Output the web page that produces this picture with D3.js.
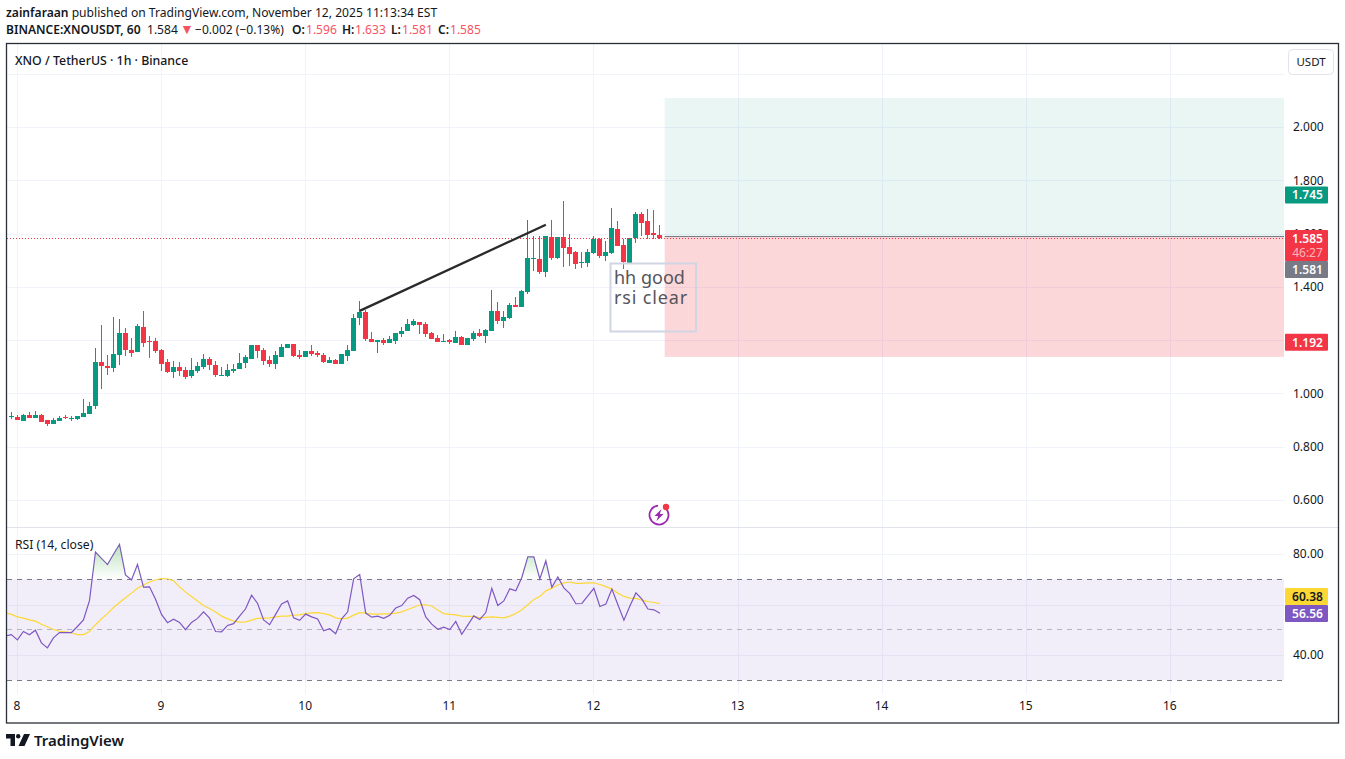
<!DOCTYPE html>
<html>
<head>
<meta charset="utf-8">
<script src="https://cdnjs.cloudflare.com/ajax/libs/d3/7.8.5/d3.min.js"></script>
<style>
html, body { margin: 0; padding: 0; background: #fff; }
svg { display: block; }
text { font-family: "Noto Sans", sans-serif; }
</style>
</head>
<body>
<div id="chart"></div>
<script>
// hourly candles, first one is 7 Nov 23:00
var firstCandleHour = -1;
var opens = [.912,.912,.897,.919,.908,.919,.901,.886,.897,.912,
  .907,.904,.912,.923,.953,1.118,1.103,1.096,1.144,1.227,
  1.163,1.156,1.249,1.197,1.197,1.163,1.118,1.081,1.099,1.088,
  1.066,1.084,1.099,1.129,1.107,1.066,1.066,1.084,1.092,1.114,
  1.129,1.182,1.163,1.126,1.111,1.137,1.171,1.186,1.144,1.137,
  1.159,1.152,1.144,1.114,1.126,1.111,1.141,1.159,1.283,1.306,
  1.204,1.193,1.201,1.189,1.197,1.223,1.234,1.257,1.268,1.261,
  1.227,1.208,1.197,1.201,1.189,1.212,1.182,1.204,1.227,1.216,
  1.234,1.309,1.272,1.283,1.332,1.324,1.381,1.506,1.504,1.456,
  1.587,1.508,1.587,1.549,1.531,1.49,1.489,1.527,1.579,1.516,
  1.527,1.617,1.557,1.489,1.583,1.673,1.647,1.602,1.596];
var highs = [.931,.919,.923,.931,.934,.923,.901,.908,.916,.919,
  .916,.916,.979,.968,1.171,1.257,1.144,1.287,1.279,1.246,
  1.208,1.261,1.309,1.216,1.208,1.167,1.129,1.122,1.118,1.099,
  1.133,1.118,1.148,1.137,1.122,1.099,1.111,1.111,1.152,1.144,
  1.182,1.182,1.171,1.141,1.159,1.186,1.186,1.186,1.163,1.159,
  1.182,1.159,1.152,1.137,1.129,1.148,1.182,1.298,1.347,1.313,
  1.231,1.201,1.208,1.216,1.227,1.249,1.279,1.279,1.268,1.268,
  1.231,1.219,1.223,1.204,1.234,1.216,1.208,1.234,1.242,1.242,
  1.388,1.343,1.309,1.339,1.362,1.388,1.651,1.591,1.591,1.591,
  1.651,1.587,1.722,1.598,1.534,1.531,1.542,1.591,1.583,1.572,
  1.696,1.647,1.579,1.583,1.681,1.681,1.692,1.688,1.633];
var lows = [.904,.901,.897,.908,.908,.893,.878,.886,.897,.904,
  .897,.901,.912,.923,.942,1.017,1.069,1.081,1.107,1.141,
  1.137,1.156,1.174,1.133,1.152,1.084,1.077,1.058,1.066,1.054,
  1.058,1.077,1.092,1.088,1.062,1.066,1.062,1.077,1.092,1.096,
  1.129,1.133,1.107,1.099,1.092,1.137,1.171,1.137,1.129,1.137,
  1.141,1.137,1.114,1.114,1.111,1.111,1.122,1.159,1.257,1.197,
  1.193,1.152,1.182,1.189,1.186,1.212,1.234,1.253,1.223,1.212,
  1.204,1.193,1.197,1.186,1.189,1.182,1.182,1.197,1.212,1.189,
  1.234,1.261,1.246,1.279,1.324,1.324,1.373,1.459,1.448,1.437,
  1.501,1.504,1.474,1.478,1.467,1.471,1.474,1.523,1.508,1.497,
  1.523,1.553,1.467,1.489,1.564,1.591,1.579,1.579,1.581];
var closes = [.914,.902,.919,.908,.919,.893,.886,.901,.908,.908,
  .908,.916,.927,.953,1.118,1.103,1.096,1.148,1.227,1.163,
  1.152,1.253,1.189,1.194,1.159,1.111,1.081,1.099,1.084,1.062,
  1.088,1.103,1.129,1.107,1.069,1.069,1.088,1.092,1.114,1.137,
  1.182,1.159,1.122,1.111,1.144,1.174,1.186,1.141,1.137,1.159,
  1.148,1.144,1.118,1.126,1.111,1.148,1.163,1.283,1.306,1.204,
  1.193,1.201,1.189,1.204,1.227,1.234,1.261,1.272,1.257,1.223,
  1.204,1.193,1.198,1.193,1.212,1.182,1.208,1.227,1.216,1.238,
  1.309,1.272,1.287,1.332,1.324,1.384,1.508,1.508,1.456,1.591,
  1.508,1.587,1.546,1.523,1.486,1.493,1.531,1.579,1.516,1.531,
  1.621,1.553,1.493,1.583,1.673,1.639,1.594,1.594,1.585];

// rsi starts one bar earlier, off the left edge
var firstRsiHour = -2;
var rsiValues = [47.5,48.1,46.0,49.3,48.0,49.8,44.8,42.8,46.8,48.9,
  48.9,48.9,51.3,53.9,61.5,80.8,78.3,75.8,79.9,83.8,
  71.7,69.7,75.9,66.9,67.0,62.1,56.1,52.8,54.2,52.9,
  50.0,52.9,54.5,57.1,54.6,49.3,49.2,51.7,52.4,55.4,
  58.3,63.7,60.4,53.9,52.0,56.1,60.2,61.4,54.7,53.7,
  56.2,55.1,54.3,49.6,50.4,48.4,54.3,57.1,70.2,71.9,
  56.6,55.0,55.4,54.5,55.7,58.6,59.6,62.5,63.6,61.9,
  55.1,52.2,50.2,51.0,50.1,53.3,48.2,51.8,55.5,54.1,
  56.8,66.4,59.6,61.4,66.2,65.4,70.7,78.9,78.9,70.1,
  77.3,66.8,70.9,66.6,64.3,60.3,60.4,63.4,66.4,59.2,
  60.2,66.1,59.9,53.8,59.4,64.6,62.1,58.2,57.9,56.56];
var rsiMa = [56.8,56.1,55.1,54.6,53.9,53.4,52.2,51.2,50.1,49.4,
  49.2,48.8,48.1,48.1,49.3,52.0,54.3,56.4,58.8,60.8,
  62.7,64.5,66.4,67.7,68.9,69.7,70.3,70.2,69.4,67.0,
  64.9,63.2,61.4,59.6,58.4,57.0,55.4,54.3,53.4,53.0,
  53.1,53.8,54.5,54.6,54.7,55.1,55.4,55.4,55.8,55.9,
  56.4,56.7,56.8,56.4,55.9,54.7,54.3,54.6,55.8,56.8,
  56.6,56.2,56.2,56.3,56.3,56.6,57.1,58.0,58.9,59.8,
  59.9,59.4,57.8,56.4,56.1,55.9,55.4,55.3,55.3,54.7,
  54.9,55.1,54.9,54.7,55.4,56.4,57.9,59.9,62.0,63.2,
  65.4,66.5,67.7,68.6,68.9,68.4,68.4,68.6,68.6,67.9,
  67.1,66.1,64.5,63.2,62.5,62.4,61.7,61.2,60.8,60.38];

var dayLabels = [8,9,10,11,12,13,14,15,16];
var priceGrid = [2.2,2.0,1.8,1.6,1.4,1.2,1.0,0.8,0.6];
// 1.200 and 60.00 sit fully behind the tags so they get no label
var priceTicks = [2.0,1.8,1.6,1.4,1.0,0.8,0.6];
var rsiGrid = [80,60,40];
var rsiTicks = [80,40];
var rsiBands = [70,50,30];

// long position tool and trend line
var positionStartHour = 107.8;
var targetPrice = 2.109, entryPrice = 1.589, stopPrice = 1.137;
var trendHours = [57,88], trendPrices = [1.31,1.633];
var lastPrice = 1.585;

var width = 1345, height = 759;
var plot = {left: 7, right: 1284, top: 44, bottom: 694, divider: 527};

var svg = d3.select("#chart").append("svg")
    .attr("width", width)
    .attr("height", height);

var x = d3.scaleLinear().domain([0,216]).range([17.4,17.4+216*6.005]);
var y = d3.scaleLinear().domain([2,0.6]).range([127,500]);
var yRsi = d3.scaleLinear().domain([80,40]).range([554,655]);

var defs = svg.append("defs");
defs.append("clipPath").attr("id","clip-price").append("rect")
    .attr("x",plot.left).attr("y",plot.top).attr("width",plot.right-plot.left).attr("height",plot.divider-plot.top);
defs.append("clipPath").attr("id","clip-rsi").append("rect")
    .attr("x",plot.left).attr("y",plot.divider).attr("width",plot.right-plot.left).attr("height",plot.bottom-plot.divider);
defs.append("clipPath").attr("id","clip-over").append("rect")
    .attr("x",plot.left).attr("y",plot.divider).attr("width",plot.right-plot.left).attr("height",yRsi(70)-plot.divider);
var grad = defs.append("linearGradient").attr("id","over-fill")
    .attr("gradientUnits","userSpaceOnUse")
    .attr("x1",0).attr("x2",0).attr("y1",yRsi(84)).attr("y2",yRsi(70));
grad.append("stop").attr("offset",0).attr("stop-color","#4caf50").attr("stop-opacity",0.38);
grad.append("stop").attr("offset",1).attr("stop-color","#4caf50").attr("stop-opacity",0);

// grid
var dayHours = dayLabels.map(function(d){ return (d-8)*24; });
var gridColor = "#f0f3fa";
svg.append("g").selectAll("line").data(dayHours).enter().append("line")
    .attr("x1",function(d){ return Math.floor(x(d))+0.5; })
    .attr("x2",function(d){ return Math.floor(x(d))+0.5; })
    .attr("y1",plot.top).attr("y2",plot.bottom)
    .attr("stroke",gridColor);
svg.append("g").selectAll("line").data(priceGrid).enter().append("line")
    .attr("x1",plot.left).attr("x2",plot.right)
    .attr("y1",function(d){ return Math.round(y(d))+0.5; })
    .attr("y2",function(d){ return Math.round(y(d))+0.5; })
    .attr("stroke",gridColor);
svg.append("g").selectAll("line").data(rsiGrid).enter().append("line")
    .attr("x1",plot.left).attr("x2",plot.right)
    .attr("y1",function(d){ return Math.round(yRsi(d))+0.5; })
    .attr("y2",function(d){ return Math.round(yRsi(d))+0.5; })
    .attr("stroke",gridColor);

// position tool
var pricePane = svg.append("g").attr("clip-path","url(#clip-price)");
pricePane.append("rect")
    .attr("x",x(positionStartHour)).attr("width",plot.right-x(positionStartHour))
    .attr("y",y(targetPrice)).attr("height",y(entryPrice)-y(targetPrice))
    .attr("fill","#089981").attr("fill-opacity",0.09);
pricePane.append("rect")
    .attr("x",x(positionStartHour)).attr("width",plot.right-x(positionStartHour))
    .attr("y",y(entryPrice)).attr("height",y(stopPrice)-y(entryPrice))
    .attr("fill","#f23645").attr("fill-opacity",0.2);
pricePane.append("line")
    .attr("x1",x(positionStartHour)).attr("x2",plot.right)
    .attr("y1",y(entryPrice)).attr("y2",y(entryPrice))
    .attr("stroke","#787b86").attr("stroke-width",1);

// candles
var candles = closes.map(function(c,i){
    return {hour: firstCandleHour+i, open: opens[i], high: highs[i], low: lows[i], close: c};
});
var candleColor = function(d){ return d.close >= d.open ? "#089981" : "#f23645"; };
var candleX = function(d){ return Math.floor(x(d.hour)); };
pricePane.append("g").selectAll("rect").data(candles).enter().append("rect")
    .attr("x",candleX).attr("width",1)
    .attr("y",function(d){ return y(d.high); })
    .attr("height",function(d){ return y(d.low)-y(d.high); })
    .attr("fill",candleColor)
    .attr("shape-rendering","crispEdges");
pricePane.append("g").selectAll("rect").data(candles).enter().append("rect")
    .attr("x",function(d){ return candleX(d)-2; }).attr("width",5)
    .attr("y",function(d){ return Math.round(y(Math.max(d.open,d.close))); })
    .attr("height",function(d){ return Math.max(1,Math.round(Math.abs(y(d.open)-y(d.close)))); })
    .attr("fill",candleColor)
    .attr("shape-rendering","crispEdges");

// last price dotted line
pricePane.append("line")
    .attr("x1",plot.left).attr("x2",plot.right)
    .attr("y1",Math.round(y(lastPrice))+0.5).attr("y2",Math.round(y(lastPrice))+0.5)
    .attr("stroke","#f23645").attr("stroke-dasharray","1 2");

// trend line
pricePane.append("line")
    .attr("x1",x(trendHours[0])).attr("y1",y(trendPrices[0]))
    .attr("x2",x(trendHours[1])).attr("y2",y(trendPrices[1]))
    .attr("stroke","#2a2a2a").attr("stroke-width",2.3);

// note box
pricePane.append("rect")
    .attr("x",610.5).attr("y",263.5).attr("width",85.5).attr("height",68)
    .attr("fill","none").attr("stroke","#d1d4e3").attr("stroke-width",2);
pricePane.append("text").attr("x",614).attr("y",284)
    .attr("font-size",18).attr("fill","#55555b").text("hh good");
pricePane.append("text").attr("x",614).attr("y",304)
    .attr("font-size",18).attr("letter-spacing",0.85).attr("fill","#55555b").text("rsi clear");

// alert icon
var icon = svg.append("g").attr("transform","translate(659,515)");
icon.append("path")
    .attr("d",d3.arc().innerRadius(8.6).outerRadius(10.4).startAngle(0.95).endAngle(2*Math.PI-0.1)())
    .attr("fill","#9c27b0");
icon.append("path").attr("d","M2.5,-6 L-4.5,1 L-0.8,1 L-2.5,6 L4.5,-1 L0.8,-1 Z").attr("fill","#9c27b0");
icon.append("circle").attr("cx",7).attr("cy",-8).attr("r",3.2).attr("fill","#f23645");

// rsi pane
var rsiPane = svg.append("g").attr("clip-path","url(#clip-rsi)");
rsiPane.append("rect")
    .attr("x",plot.left).attr("width",plot.right-plot.left)
    .attr("y",yRsi(70)).attr("height",yRsi(30)-yRsi(70))
    .attr("fill","#7e57c2").attr("fill-opacity",0.1);
rsiPane.append("g").selectAll("line").data(rsiBands).enter().append("line")
    .attr("x1",plot.left).attr("x2",plot.right)
    .attr("y1",function(d){ return Math.floor(yRsi(d))+0.5; })
    .attr("y2",function(d){ return Math.floor(yRsi(d))+0.5; })
    .attr("stroke","#787b86")
    .attr("stroke-opacity",function(d){ return d==50 ? 0.5 : 1; })
    .attr("stroke-dasharray","5 5");

var rsiHour = function(d,i){ return x(firstRsiHour+i); };
svg.append("g").attr("clip-path","url(#clip-over)").append("path")
    .datum(rsiValues)
    .attr("d",d3.area().x(rsiHour).y0(yRsi(70)).y1(function(d){ return yRsi(d); }))
    .attr("fill","url(#over-fill)");
rsiPane.append("path").datum(rsiMa)
    .attr("d",d3.line().x(rsiHour).y(function(d){ return yRsi(d); }))
    .attr("fill","none").attr("stroke","#fdd835").attr("stroke-width",1.2);
rsiPane.append("path").datum(rsiValues)
    .attr("d",d3.line().x(rsiHour).y(function(d){ return yRsi(d); }))
    .attr("fill","none").attr("stroke","#7e57c2").attr("stroke-width",1.2);

// axes
var priceAxis = svg.append("g")
    .attr("transform","translate(1293,0)")
    .call(d3.axisRight(y).tickValues(priceTicks).tickSize(0).tickPadding(0).tickFormat(d3.format(".3f")));
var rsiAxis = svg.append("g")
    .attr("transform","translate(1293,0)")
    .call(d3.axisRight(yRsi).tickValues(rsiTicks).tickSize(0).tickPadding(0).tickFormat(d3.format(".2f")));
var timeAxis = svg.append("g")
    .attr("transform","translate(-1,696)")
    .call(d3.axisBottom(x).tickValues(dayHours).tickSize(0).tickPadding(5)
        .tickFormat(function(d,i){ return dayLabels[i]; }));
[priceAxis,rsiAxis,timeAxis].forEach(function(a){
    a.select(".domain").remove();
    a.selectAll("text").attr("font-size",12).attr("font-family","'Noto Sans'").attr("fill","#131722");
});

// price tags on the axis
var tags = [
  {top: y(1.745)-8.5, h: 17, bg: "#089981", fg: "#fff", t: "1.745"},
  {top: y(1.192)-8.5, h: 17, bg: "#f23645", fg: "#fff", t: "1.192"},
  {top: 230, h: 31, bg: "#f23645", fg: "#fff", t: "1.585", sub: "46:27"},
  {top: 261, h: 17, bg: "#787b86", fg: "#fff", t: "1.581"},
  {top: 588, h: 17, bg: "#fdd835", fg: "#131722", t: "60.38"},
  {top: 605, h: 17, bg: "#7e57c2", fg: "#fff", t: "56.56"}
];
var tagG = svg.append("g").selectAll("g").data(tags).enter().append("g");
tagG.append("rect")
    .attr("x",1285).attr("width",43)
    .attr("y",function(d){ return d.top; }).attr("height",function(d){ return d.h; })
    .attr("rx",1)
    .attr("fill",function(d){ return d.bg; });
tagG.append("text")
    .attr("x",1307.5).attr("text-anchor","middle")
    .attr("y",function(d){ return d.top+13; })
    .attr("font-size",12).attr("font-weight",600)
    .attr("fill",function(d){ return d.fg; })
    .text(function(d){ return d.t; });
tagG.filter(function(d){ return d.sub; }).append("text")
    .attr("x",1307.5).attr("text-anchor","middle")
    .attr("y",function(d){ return d.top+27; })
    .attr("font-size",12)
    .attr("fill","#fff").attr("fill-opacity",0.65)
    .text(function(d){ return d.sub; });

// frame and divider
svg.append("line").attr("x1",plot.left).attr("x2",1338).attr("y1",plot.divider+0.5).attr("y2",plot.divider+0.5)
    .attr("stroke","#e0e3eb");
svg.append("rect").attr("x",6.5).attr("y",43.5).attr("width",1332).attr("height",679.5)
    .attr("fill","none").attr("stroke","#2a2e39").attr("stroke-width",1.3);

// USDT button
svg.append("rect").attr("x",1288.5).attr("y",49.5).attr("width",45).attr("height",25).attr("rx",4)
    .attr("fill","#fff").attr("stroke","#e0e3eb");
svg.append("text").attr("x",1311).attr("y",66).attr("text-anchor","middle")
    .attr("font-size",11.5).attr("fill","#131722").text("USDT");

// header text
var ink = "#131722", red = "#f7525f";
var line1 = svg.append("text").attr("x",6).attr("y",17).attr("font-size",12.1).attr("fill",ink);
line1.append("tspan").attr("font-weight",600).text("zainfaraan");
line1.append("tspan").text(" published on TradingView.com, November 12, 2025 11:13:34 EST");

var line2 = svg.append("text").attr("y",34).attr("font-size",12.05).attr("fill",ink);
line2.append("tspan").attr("x",6).attr("font-weight",600).text("BINANCE:XNOUSDT, 60");
line2.append("tspan").attr("x",147).text("1.584");
line2.append("tspan").attr("x",180).attr("fill",red).attr("font-size",14).text("▼");
line2.append("tspan").attr("x",195).text("−0.002 (−0.13%)");
[["O:","1.596",292,306],["H:","1.633",342,355],["L:","1.581",391,402],["C:","1.585",438,450]].forEach(function(p){
    line2.append("tspan").attr("x",p[2]).attr("font-weight",600).text(p[0]);
    line2.append("tspan").attr("x",p[3]).attr("fill",red).text(p[1]);
});

svg.append("text").attr("x",15).attr("y",64.5).attr("font-size",12.35).attr("font-weight",500)
    .attr("fill",ink).text("XNO / TetherUS · 1h · Binance");
svg.append("text").attr("x",15).attr("y",549).attr("font-size",12.2)
    .attr("fill",ink).text("RSI (14, close)");

// logo
var logo = svg.append("g").attr("fill","#131722");
logo.append("path").attr("d","M6,734 H15 V746 H10.5 V738.5 H6 Z");
logo.append("circle").attr("cx",18.2).attr("cy",736.2).attr("r",2.2);
logo.append("path").attr("d","M24,734 H30 L24.5,746 H18.5 Z");
svg.append("text").attr("x",34).attr("y",746).attr("font-family","Inter").attr("font-size",15)
    .attr("font-weight",600).attr("fill","#131722").text("TradingView");
</script>
</body>
</html>
